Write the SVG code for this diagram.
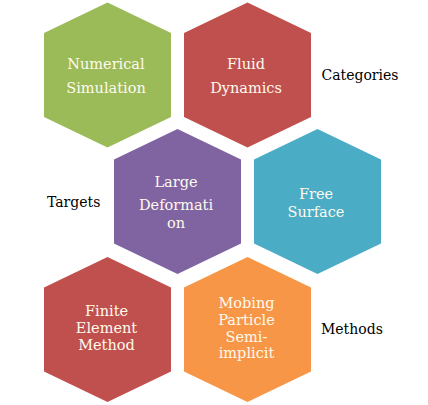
<svg xmlns="http://www.w3.org/2000/svg" width="428" height="405" viewBox="0 0 428 405">
<style>
.hex{stroke:none}
.nt{font-family:"DejaVu Serif","Liberation Serif",serif;font-size:14.5px;fill:#fffaee;text-anchor:middle}
.lb{font-family:"DejaVu Serif","Liberation Serif",serif;font-size:14px;fill:#000}
</style>
<defs>
<path id="hx" d="M0,-72.5 L63.5,-42 L63.5,42 L0,72.5 L-63.5,42 L-63.5,-42 Z"/>
</defs>
<rect width="428" height="405" fill="#fff"/>
<g id="connectors"/>
<g id="n1">
<use href="#hx" x="107.5" y="75" fill="#9BBB59"/>
<text class="nt" x="106" y="68.5">Numerical</text>
<text class="nt" x="106" y="92.5">Simulation</text>
</g>
<g id="n2">
<use href="#hx" x="247.5" y="75" fill="#C0504D"/>
<text class="nt" x="246" y="68.5">Fluid</text>
<text class="nt" x="246" y="92.5">Dynamics</text>
</g>
<g id="n3">
<use href="#hx" x="177.5" y="201.5" fill="#8064A2"/>
<text class="nt" x="176" y="186.5">Large</text>
<text class="nt" x="176" y="210">Deformati</text>
<text class="nt" x="176" y="227.5">on</text>
</g>
<g id="n4">
<use href="#hx" x="317.5" y="201.5" fill="#4BACC6"/>
<text class="nt" x="316" y="198.5">Free</text>
<text class="nt" x="316" y="216.5">Surface</text>
</g>
<g id="n5">
<use href="#hx" x="107.5" y="329.5" fill="#C0504D"/>
<text class="nt" x="106.5" y="316">Finite</text>
<text class="nt" x="106.5" y="333.3">Element</text>
<text class="nt" x="106.5" y="350">Method</text>
</g>
<g id="n6">
<use href="#hx" x="247.5" y="329.5" fill="#F79646"/>
<text class="nt" x="246.5" y="308.3">Mobing</text>
<text class="nt" x="246.5" y="325">Particle</text>
<text class="nt" x="246.5" y="341.7">Semi-</text>
<text class="nt" x="246.5" y="358.3">implicit</text>
</g>
<g id="labels">
<text class="lb" x="321.5" y="80">Categories</text>
<text class="lb" x="47" y="207">Targets</text>
<text class="lb" x="321" y="334">Methods</text>
</g>
</svg>
